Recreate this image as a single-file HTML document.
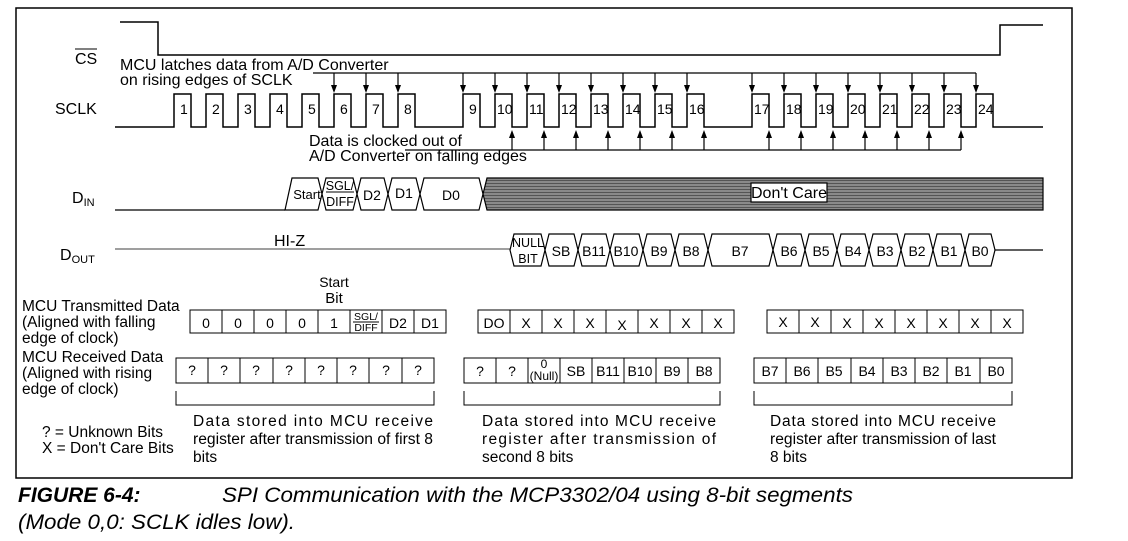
<!DOCTYPE html>
<html><head><meta charset="utf-8"><style>
html,body{margin:0;padding:0;background:#fff;}
svg{display:block;font-family:"Liberation Sans",Arial,sans-serif;}
</style></head><body>
<svg width="1128" height="541" viewBox="0 0 1128 541" xmlns="http://www.w3.org/2000/svg">
<defs>
<pattern id="h" width="3" height="3" patternUnits="userSpaceOnUse"><rect width="3" height="3" fill="#8a8a8a"/><line x1="0" y1="0.5" x2="3" y2="0.5" stroke="#555" stroke-width="1"/></pattern>
</defs>
<g fill="none" stroke="#000" stroke-width="1.5">
<rect x="16" y="8" width="1056" height="470"/>
<path d="M120 22 H158 V55 H1000 V25 H1043"/>
<path d="M115 127 H174 V94 H191 V127 H206 V94 H223 V127 H238 V94 H255 V127 H270 V94 H287 V127 H302 V94 H319 V127 H334 V94 H351 V127 H366 V94 H383 V127 H398 V94 H415 V127 H463 V94 H480 V127 H495 V94 H512 V127 H527 V94 H544 V127 H559 V94 H576 V127 H591 V94 H608 V127 H623 V94 H640 V127 H655 V94 H672 V127 H687 V94 H704 V127 H752 V94 H769 V127 H784 V94 H801 V127 H816 V94 H833 V127 H848 V94 H865 V127 H880 V94 H897 V127 H912 V94 H929 V127 H944 V94 H961 V127 H976 V94 H993 V127 H1043"/>
</g>
<g stroke="#000" stroke-width="1.2" fill="none">
<path d="M313 73 H976"/>
<path d="M405 150 H961"/>
</g>
<g fill="#000">
<path d="M334 73V86M366 73V86M398 73V86M463 73V86M495 73V86M527 73V86M559 73V86M591 73V86M623 73V86M655 73V86M687 73V86M752 73V86M784 73V86M816 73V86M848 73V86M880 73V86M912 73V86M944 73V86M976 73V86" stroke="#000" stroke-width="1.2"/>
<path d="M331 85h6l-3 8zM363 85h6l-3 8zM395 85h6l-3 8zM460 85h6l-3 8zM492 85h6l-3 8zM524 85h6l-3 8zM556 85h6l-3 8zM588 85h6l-3 8zM620 85h6l-3 8zM652 85h6l-3 8zM684 85h6l-3 8zM749 85h6l-3 8zM781 85h6l-3 8zM813 85h6l-3 8zM845 85h6l-3 8zM877 85h6l-3 8zM909 85h6l-3 8zM941 85h6l-3 8zM973 85h6l-3 8z"/>
<path d="M512 150V137M544 150V137M576 150V137M608 150V137M640 150V137M672 150V137M704 150V137M769 150V137M801 150V137M833 150V137M865 150V137M897 150V137M929 150V137M961 150V137" stroke="#000" stroke-width="1.2"/>
<path d="M509 138h6l-3 -8zM541 138h6l-3 -8zM573 138h6l-3 -8zM605 138h6l-3 -8zM637 138h6l-3 -8zM669 138h6l-3 -8zM701 138h6l-3 -8zM766 138h6l-3 -8zM798 138h6l-3 -8zM830 138h6l-3 -8zM862 138h6l-3 -8zM894 138h6l-3 -8zM926 138h6l-3 -8zM958 138h6l-3 -8z"/>
</g>
<g font-size="14" fill="#000">
<text x="180" y="114">1</text><text x="212" y="114">2</text><text x="244" y="114">3</text><text x="276" y="114">4</text><text x="308" y="114">5</text><text x="340" y="114">6</text><text x="372" y="114">7</text><text x="404" y="114">8</text>
<text x="469" y="114">9</text><text x="497" y="114">10</text><text x="529" y="114">11</text><text x="561" y="114">12</text><text x="593" y="114">13</text><text x="625" y="114">14</text><text x="657" y="114">15</text><text x="689" y="114">16</text>
<text x="754" y="114">17</text><text x="786" y="114">18</text><text x="818" y="114">19</text><text x="850" y="114">20</text><text x="882" y="114">21</text><text x="914" y="114">22</text><text x="946" y="114">23</text><text x="978" y="114">24</text>
</g>
<g font-size="16" fill="#000">
<text x="120" y="70">MCU latches data from A/D Converter</text>
<text x="120" y="85">on rising edges of SCLK</text>
<text x="309" y="146">Data is clocked out of</text>
<text x="309" y="161">A/D Converter on falling edges</text>
<text x="75" y="64">CS</text><line x1="75" y1="49" x2="97" y2="49" stroke="#000" stroke-width="1"/>
<text x="55" y="114">SCLK</text>
<text x="72" y="203">D<tspan font-size="11" dy="3">IN</tspan></text>
<text x="60" y="260">D<tspan font-size="11" dy="3">OUT</tspan></text>
<text x="274" y="246">HI-Z</text>
</g>
<g stroke="#000" stroke-width="1.2" fill="#fff">
<path d="M115 210 H285" fill="none"/>
<polygon points="285,210 292,178 318,178 322,194 318,210"/>
<polygon points="322,194 326,178 353,178 357,194 353,210 326,210"/>
<polygon points="357,194 361,178 384,178 388,194 384,210 361,210"/>
<polygon points="388,194 392,178 416,178 420,194 416,210 392,210"/>
<polygon points="420,194 424,178 479,178 483,194 479,210 424,210"/>
<polygon points="483,194 487,178 1043,178 1043,210 487,210" fill="url(#h)"/>
<rect x="751" y="183" width="76" height="19" fill="#fff"/>
<path d="M115 249 H510" fill="none" stroke="#666"/>
<polygon points="510,250 514,234 541,234 545,250 541,266 514,266"/>
<polygon points="545,250 549,234 574,234 578,250 574,266 549,266"/>
<polygon points="578,250 582,234 606,234 610,250 606,266 582,266"/>
<polygon points="610,250 614,234 639,234 643,250 639,266 614,266"/>
<polygon points="643,250 647,234 671,234 675,250 671,266 647,266"/>
<polygon points="675,250 679,234 704,234 708,250 704,266 679,266"/>
<polygon points="708,250 712,234 769,234 773,250 769,266 712,266"/>
<polygon points="773,250 777,234 801,234 805,250 801,266 777,266"/>
<polygon points="805,250 809,234 833,234 837,250 833,266 809,266"/>
<polygon points="837,250 841,234 865,234 869,250 865,266 841,266"/>
<polygon points="869,250 873,234 897,234 901,250 897,266 873,266"/>
<polygon points="901,250 905,234 929,234 933,250 929,266 905,266"/>
<polygon points="933,250 937,234 961,234 965,250 961,266 937,266"/>
<polygon points="965,250 969,234 991,234 995,250 991,266 969,266"/>
<path d="M995 250 H1043" fill="none"/>
</g>
<g font-size="14" fill="#000" text-anchor="middle">
<text x="307" y="199" font-size="13">Start</text>
<text x="340" y="190" font-size="12.5">SGL/</text><line x1="326" y1="192" x2="354" y2="192" stroke="#000"/><text x="340" y="206" font-size="12.5">DIFF</text>
<text x="372" y="200">D2</text><text x="404" y="198">D1</text><text x="451" y="200">D0</text>
<text x="789" y="198" font-size="16">Don't Care</text>
<text x="528" y="247" font-size="12.5">NULL</text><text x="528" y="263" font-size="12.5">BIT</text>
<text x="561" y="256">SB</text><text x="594" y="256">B11</text><text x="626" y="256">B10</text><text x="659" y="256">B9</text><text x="691" y="256">B8</text><text x="740" y="256">B7</text>
<text x="789" y="256">B6</text><text x="821" y="256">B5</text><text x="853" y="256">B4</text><text x="885" y="256">B3</text><text x="917" y="256">B2</text><text x="949" y="256">B1</text><text x="980" y="256">B0</text>
</g>
<g fill="none" stroke="#000" stroke-width="1">
<rect x="190" y="310" width="256" height="23"/>
<path d="M222 310V333M254 310V333M286 310V333M318 310V333M350 310V333M382 310V333M414 310V333"/>
<rect x="478" y="310" width="256" height="23"/>
<path d="M510 310V333M542 310V333M574 310V333M606 310V333M638 310V333M670 310V333M702 310V333"/>
<rect x="767" y="310" width="256" height="23"/>
<path d="M799 310V333M831 310V333M863 310V333M895 310V333M927 310V333M959 310V333M991 310V333"/>
<rect x="176" y="358" width="258" height="25"/>
<path d="M208 358V383M240 358V383M273 358V383M305 358V383M337 358V383M369 358V383M402 358V383"/>
<rect x="464" y="358" width="256" height="25"/>
<path d="M496 358V383M528 358V383M560 358V383M592 358V383M624 358V383M656 358V383M688 358V383"/>
<rect x="754" y="358" width="258" height="25"/>
<path d="M786 358V383M818 358V383M851 358V383M883 358V383M915 358V383M947 358V383M980 358V383"/>
<path d="M176 391V405H434V391M464 391V405H720V391M754 391V405H1012V391"/>
</g>
<g font-size="14" fill="#000" text-anchor="middle">
<text x="206" y="328">0</text><text x="238" y="328">0</text><text x="270" y="328">0</text><text x="302" y="328">0</text><text x="334" y="328">1</text>
<text x="366" y="320" font-size="10.5">SGL/</text><line x1="353" y1="322" x2="379" y2="322" stroke="#000"/><text x="366" y="331" font-size="10.5">DIFF</text>
<text x="398" y="328">D2</text><text x="430" y="328">D1</text>
<text x="334" y="287">Start</text><text x="334" y="303" font-size="15">Bit</text>
<text x="494" y="328">DO</text><text x="526" y="328">X</text><text x="558" y="328">X</text><text x="590" y="328">X</text><text x="622" y="330">X</text><text x="654" y="328">X</text><text x="686" y="328">X</text><text x="718" y="328">X</text>
<text x="783" y="327">X</text><text x="815" y="327">X</text><text x="847" y="328">X</text><text x="879" y="328">X</text><text x="911" y="328">X</text><text x="943" y="328">X</text><text x="975" y="328">X</text><text x="1007" y="328">X</text>
<text x="192" y="375">?</text><text x="224" y="375">?</text><text x="256" y="375">?</text><text x="289" y="375">?</text><text x="321" y="375">?</text><text x="353" y="375">?</text><text x="386" y="375">?</text><text x="418" y="375">?</text>
<text x="480" y="376">?</text><text x="512" y="376">?</text><text x="544" y="368" font-size="12">0</text><text x="544" y="380" font-size="12">(Null)</text>
<text x="576" y="376">SB</text><text x="608" y="376">B11</text><text x="640" y="376">B10</text><text x="672" y="376">B9</text><text x="704" y="376">B8</text>
<text x="770" y="376">B7</text><text x="802" y="376">B6</text><text x="834" y="376">B5</text><text x="867" y="376">B4</text><text x="899" y="376">B3</text><text x="931" y="376">B2</text><text x="963" y="376">B1</text><text x="996" y="376">B0</text>
</g>
<g font-size="15.5" fill="#000">
<text x="22" y="311">MCU Transmitted Data</text>
<text x="22" y="327">(Aligned with falling</text>
<text x="22" y="343">edge of clock)</text>
<text x="22" y="362">MCU Received Data</text>
<text x="22" y="378">(Aligned with rising</text>
<text x="22" y="394">edge of clock)</text>
<text x="42" y="437">? = Unknown Bits</text>
<text x="42" y="453">X = Don't Care Bits</text>
<text x="193" y="426" textLength="240" lengthAdjust="spacing">Data stored into MCU receive</text>
<text x="193" y="444" textLength="240" lengthAdjust="spacingAndGlyphs">register after transmission of first 8</text>
<text x="193" y="462">bits</text>
<text x="482" y="426" textLength="234" lengthAdjust="spacing">Data stored into MCU receive</text>
<text x="482" y="444" textLength="234" lengthAdjust="spacing">register after transmission of</text>
<text x="482" y="462">second 8 bits</text>
<text x="770" y="426" textLength="226" lengthAdjust="spacing">Data stored into MCU receive</text>
<text x="770" y="444" textLength="226" lengthAdjust="spacingAndGlyphs">register after transmission of last</text>
<text x="770" y="462">8 bits</text>
</g>
<g font-size="21" font-style="italic" fill="#000">
<text x="18" y="502" font-weight="bold">FIGURE 6-4:</text>
<text x="222" y="502" textLength="631" lengthAdjust="spacingAndGlyphs">SPI Communication with the MCP3302/04 using 8-bit segments</text>
<text x="18" y="529" textLength="277" lengthAdjust="spacingAndGlyphs">(Mode 0,0: SCLK idles low).</text>
</g>
</svg>
</body></html>
